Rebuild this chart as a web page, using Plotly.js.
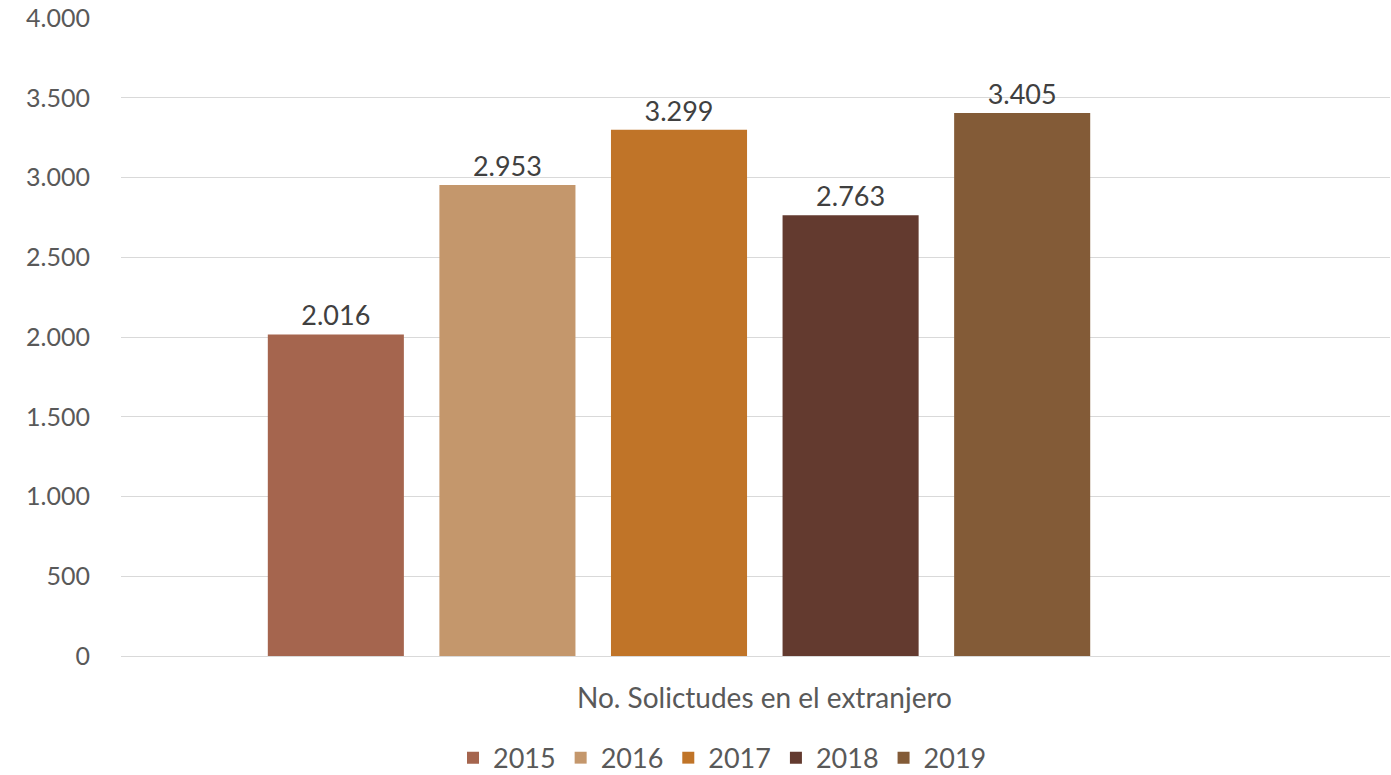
<!DOCTYPE html>
<html><head><meta charset="utf-8">
<script src="https://cdn.plot.ly/plotly-3.0.1.min.js"></script>
<style>html,body{margin:0;padding:0;background:#fff}#chart{width:1391px;height:775px}</style>
</head><body><div id="chart"></div>
<script>
const category = ["No. Solictudes en el extranjero"];
const years = ["2015", "2016", "2017", "2018", "2019"];
const values = [2016, 2953, 3299, 2763, 3405];
const colors = ["#A5654E", "#C4976C", "#C07428", "#633A2F", "#835B37"];

const traces = years.map((y, i) => ({
  type: "bar",
  name: y,
  x: category,
  y: [values[i]],
  marker: {color: colors[i]},
  text: [values[i]],
  texttemplate: "%{y:,}",
  textposition: "outside",
  cliponaxis: false,
  textfont: {family: "Lato, sans-serif", size: 27, color: "#404040"},
  hoverinfo: "none"
}));

const layout = {
  width: 1391, height: 775,
  margin: {l: 121, r: 1, t: 18, b: 119, autoexpand: false},
  paper_bgcolor: "#fff", plot_bgcolor: "#fff",
  separators: ",.",
  barmode: "group",
  bargap: 0.2205,
  bargroupgap: 0.207,
  font: {family: "Lato, sans-serif", color: "#595959"},
  xaxis: {
    type: "category",
    range: [-0.507, 0.646],
    showticklabels: false,
    showgrid: false, zeroline: false, showline: false, ticks: ""
  },
  yaxis: {
    range: [0, 4000], dtick: 500, tickformat: ",",
    showgrid: true, gridcolor: "#D9D9D9", gridwidth: 1,
    zeroline: true, zerolinecolor: "#D9D9D9", zerolinewidth: 1,
    showline: false, ticks: "",
    ticklabelstandoff: 30,
    tickfont: {family: "Lato, sans-serif", size: 25, color: "#595959"}
  },
  showlegend: true,
  legend: {
    orientation: "h", x: 0.474, xanchor: "center", y: -0.16, yanchor: "middle",
    font: {family: "Lato, sans-serif", size: 27, color: "#595959"},
    itemwidth: 30, traceorder: "normal"
  },
  annotations: [{
    text: category[0], xref: "paper", yref: "paper",
    x: 0.507, y: -0.064, xanchor: "center", yanchor: "middle",
    showarrow: false,
    font: {family: "Lato, sans-serif", size: 28, color: "#595959"}
  }]
};
Plotly.newPlot("chart", traces, layout, {displayModeBar: false, staticPlot: true});
</script></body></html>
